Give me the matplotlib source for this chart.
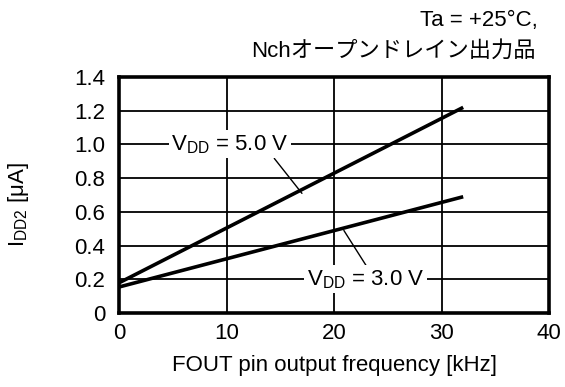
import numpy as np
import matplotlib.pyplot as plt

plt.rcParams['font.family'] = ['Liberation Sans', 'Noto Sans CJK JP', 'DejaVu Sans']
plt.rcParams['mathtext.fontset'] = 'custom'
plt.rcParams['mathtext.rm'] = 'Liberation Sans'

# data
freq_khz = [0, 32]
idd_5v = [0.18, 1.22]
idd_3v = [0.155, 0.69]
x_ticks = [0, 10, 20, 30, 40]
y_ticks = [0, 0.2, 0.4, 0.6, 0.8, 1.0, 1.2, 1.4]
y_ticklabels = ['0', '0.2', '0.4', '0.6', '0.8', '1.0', '1.2', '1.4']

fs = 16

fig = plt.figure(figsize=(5.65, 3.87), dpi=100)
ax = fig.add_axes([0.211, 0.191, 0.761, 0.610])

ax.plot(freq_khz, idd_5v, color='black', lw=2.6, solid_capstyle='butt', zorder=3)
ax.plot(freq_khz, idd_3v, color='black', lw=2.6, solid_capstyle='butt', zorder=3)

ax.set_xlim(0, 40)
ax.set_ylim(0, 1.4)
ax.set_xticks(x_ticks)
ax.set_yticks(y_ticks)
ax.set_yticklabels(y_ticklabels)
ax.tick_params(axis='y', length=0, labelsize=fs, pad=10)
ax.tick_params(axis='x', length=0, labelsize=fs, pad=7)
ax.grid(True, color='black', lw=1.3)
ax.set_axisbelow(True)
for s in ax.spines.values():
    s.set_linewidth(2.6)

# labels with leader lines
ax.annotate(r'$\mathregular{V_{DD}}$ = 5.0 V', xy=(17.0, 0.71), xytext=(10.3, 1.0),
            ha='center', va='center', fontsize=fs,
            bbox=dict(boxstyle='square,pad=0.12', fc='white', ec='none'),
            arrowprops=dict(arrowstyle='-', color='black', lw=1.0,
                            shrinkA=0, shrinkB=0, relpos=(0.86, 0.0)), zorder=4)
ax.annotate(r'$\mathregular{V_{DD}}$ = 3.0 V', xy=(20.9, 0.49), xytext=(22.9, 0.2),
            ha='center', va='center', fontsize=fs,
            bbox=dict(boxstyle='square,pad=0.12', fc='white', ec='none'),
            arrowprops=dict(arrowstyle='-', color='black', lw=1.0,
                            shrinkA=0, shrinkB=0, relpos=(0.52, 1.0)), zorder=4)

ax.set_xlabel('FOUT pin output frequency [kHz]', fontsize=fs, labelpad=8)
ax.set_ylabel(r'I$_{\mathregular{DD2}}$ [μA]', fontsize=fs)
ax.yaxis.set_label_coords(-0.205, 0.46)

fig.text(0.951, 0.948, 'Ta = +25°C,', ha='right', va='center', fontsize=fs)
fig.text(0.948, 0.868, 'Nchオープンドレイン出力品', ha='right', va='center', fontsize=fs)

fig.savefig('out.png', dpi=100)
